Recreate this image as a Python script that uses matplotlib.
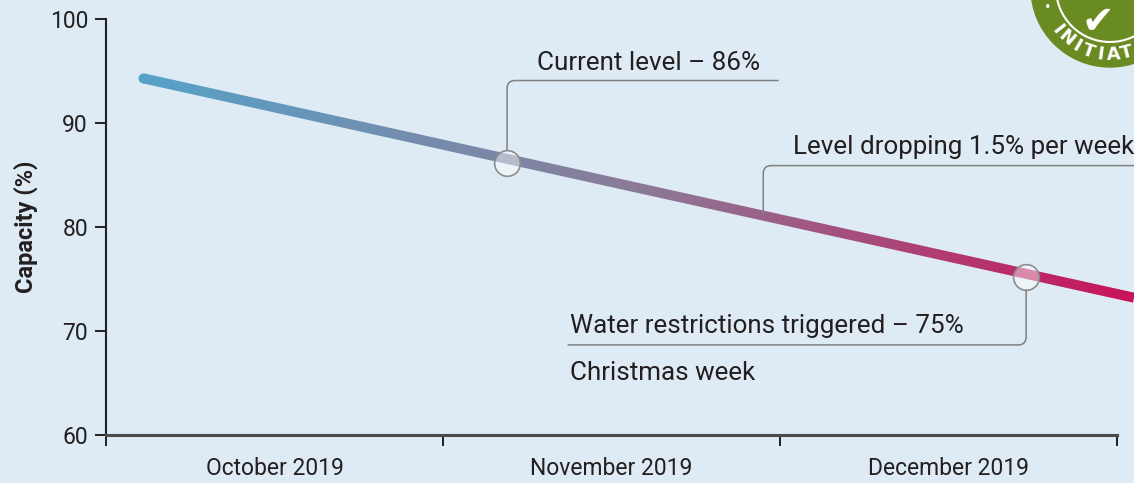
import matplotlib
matplotlib.use("Agg")
import matplotlib.pyplot as plt
import numpy as np
from matplotlib.colors import LinearSegmentedColormap
from matplotlib.path import Path
from matplotlib.patches import PathPatch, Circle
from matplotlib.transforms import IdentityTransform

# Data (x in months from 1 Oct 2019)
months = ["October 2019", "November 2019", "December 2019"]
month_edges = [0, 1, 2, 3]
trend_x = [0.11, 3.05]
trend_y = [94.3, 73.2]
current_x, current_y = 1.19, 86.2
restrict_x, restrict_y = 2.73, 75.2
drop_x = 1.95
yticks = [60, 70, 80, 90, 100]

# Style
bg = "#deebf4"
ink = "#231f20"
grey = "#808080"
plt.rcParams["font.family"] = ["Roboto", "DejaVu Sans"]
txt_size = 18.7
tick_size = 16.5

fig = plt.figure(figsize=(11.34, 4.83), dpi=100)
fig.patch.set_facecolor(bg)
ax = fig.add_axes([106 / 1134, 48 / 483, 1028 / 1134, 416 / 483])
ax.set_facecolor(bg)

# gradient line: image clipped to the stroke of the trend line
cmap = LinearSegmentedColormap.from_list("lvl", ["#57a2c8", "#8b7b98", "#c8145a"])
grad = np.linspace(0, 1, 512).reshape(1, -1)
im = ax.imshow(grad, extent=(trend_x[0], trend_x[1], 60, 100), cmap=cmap,
               aspect="auto", interpolation="bilinear", zorder=2)
ax.set_xlim(0, 3.05)
ax.set_ylim(60, 100)

hw = 5.0
p = ax.transData.transform(np.column_stack([trend_x, trend_y]))
d = p[1] - p[0]
n = np.array([-d[1], d[0]]) / np.hypot(*d) * hw
verts = [p[0] + n, p[1] + n, p[1] - n, p[0] - n, p[0] + n]
clip = PathPatch(Path(verts, closed=True), transform=IdentityTransform())
im.set_clip_path(clip)
ax.plot(trend_x[0], trend_y[0], "o", ms=2 * hw * 0.72, color=cmap(0.0), mec="none", zorder=1.9)

# markers
ax.plot([current_x, restrict_x], [current_y, restrict_y], "o", ms=18.5,
        mfc=(1, 1, 1, 0.45), mec="#8c8c8c", mew=1.2, zorder=3)


def leader(x, y, dx, dy, shrink):
    ax.annotate("", xy=(x, y), xytext=(dx, dy), textcoords="offset pixels",
                arrowprops=dict(arrowstyle="-", color=grey, lw=1.1, shrinkA=0, shrinkB=shrink,
                                connectionstyle="angle,angleA=0,angleB=90,rad=8"))


def label(x, y, dx, dy, s):
    ax.annotate(s, xy=(x, y), xytext=(dx, dy), textcoords="offset pixels",
                ha="left", va="baseline", fontsize=txt_size, color=ink)


drop_y = np.interp(drop_x, trend_x, trend_y)

leader(current_x, current_y, 271, 82, 9.4)
label(current_x, current_y, 30, 93, "Current level \u2013 86%")

leader(drop_x, drop_y, 371, 50, 0)
label(drop_x, drop_y, 30, 62, "Level dropping 1.5% per week")

leader(restrict_x, restrict_y, -458, -68, 9.4)
label(restrict_x, restrict_y, -456, -56, "Water restrictions triggered \u2013 75%")
label(restrict_x, restrict_y, -456, -103, "Christmas week")

# axes
for s in ["top", "right"]:
    ax.spines[s].set_visible(False)
ax.spines["left"].set_color(ink)
ax.spines["left"].set_linewidth(1.5)
ax.spines["bottom"].set_color("#4a4a4a")
ax.spines["bottom"].set_linewidth(2.2)
ax.spines["bottom"].set_bounds(0, 3)

ax.set_yticks(yticks)
ax.tick_params(axis="y", length=8, width=1.4, color=ink, pad=5, labelsize=tick_size, labelcolor=ink)
ax.set_xticks(month_edges)
ax.set_xticklabels([])
ax.set_xticks([0.5, 1.5, 2.5], minor=True)
ax.set_xticklabels(months, minor=True)
ax.tick_params(axis="x", which="major", length=8, width=1.4, color=ink)
ax.tick_params(axis="x", which="minor", length=0, pad=16, labelsize=tick_size, labelcolor=ink)
ax.set_ylabel("Capacity (%)", fontsize=tick_size + 0.5, fontweight="bold", color=ink, labelpad=8)

# logo in the top-right corner (partly off the canvas)
cx, cy = 1110, 483 + 12
fig.add_artist(Circle((cx, cy), 79, transform=IdentityTransform(), color="#6a8b22", zorder=5))
fig.add_artist(Circle((cx, cy), 54, transform=IdentityTransform(), fill=False,
                      ec="white", lw=1.5, zorder=6))
for i, ch in enumerate("INITIAT"):
    ang = np.deg2rad(218 + i * 11.0)
    fig.text(cx + 67 * np.cos(ang), cy + 67 * np.sin(ang), ch, transform=IdentityTransform(),
             rotation=np.rad2deg(ang) - 270, ha="center", va="center", color="white",
             fontsize=13, fontweight="bold", family="DejaVu Sans", zorder=7)
fig.text(1048, 483 - 7, "\u2022", transform=IdentityTransform(), ha="center", va="center",
         color="white", fontsize=12, zorder=7)
fig.text(1098, 483 - 22, "\u2714", transform=IdentityTransform(), ha="center", va="center",
         color="white", fontsize=28, family="DejaVu Sans", zorder=7)

fig.savefig("out.png", dpi=100, facecolor=bg)
